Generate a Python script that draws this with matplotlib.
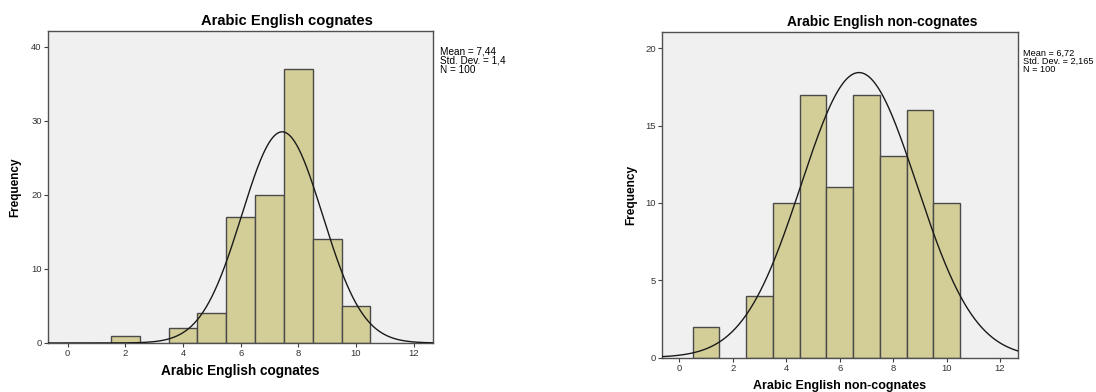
import numpy as np
import matplotlib
matplotlib.use("Agg")
import matplotlib.pyplot as plt

plt.rcParams['font.family'] = ['Liberation Sans', 'DejaVu Sans']

# Data
cog_values = [2, 4, 5, 6, 7, 8, 9, 10]
cog_counts = [1, 2, 4, 17, 20, 37, 14, 5]
cog_mean, cog_sd, cog_n = 7.44, 1.4, 100

non_values = [1, 3, 4, 5, 6, 7, 8, 9, 10]
non_counts = [2, 4, 10, 17, 11, 17, 13, 16, 10]
non_mean, non_sd, non_n = 6.72, 2.165, 100

x_ticks = [0, 2, 4, 6, 8, 10, 12]
cog_yticks = [0, 10, 20, 30, 40]
non_yticks = [0, 5, 10, 15, 20]

titles = ["Arabic English cognates", "Arabic English non-cognates"]
stats_text = ["Mean = 7,44\nStd. Dev. = 1,4\nN = 100",
              "Mean = 6,72\nStd. Dev. = 2,165\nN = 100"]

BAR = '#d3ce97'
EDGE = '#4a4a4a'
BG = '#f0f0f0'

fig = plt.figure(figsize=(10.96, 3.92), dpi=100)

def panel(rect, values, counts, mean, sd, n, xlim, ylim, yticks):
    ax = fig.add_axes(rect)
    ax.set_facecolor(BG)
    ax.bar(values, counts, width=1.0, color=BAR, edgecolor=EDGE, linewidth=1.0, zorder=2)
    xs = np.linspace(xlim[0], xlim[1], 400)
    ys = n * 1.0 / (sd * np.sqrt(2 * np.pi)) * np.exp(-0.5 * ((xs - mean) / sd) ** 2)
    ax.plot(xs, ys, color='#1a1a1a', linewidth=1.0, zorder=3)
    ax.set_xlim(*xlim)
    ax.set_ylim(*ylim)
    ax.set_xticks(x_ticks)
    ax.set_yticks(yticks)
    ax.tick_params(axis='both', labelsize=6.8, length=3, width=0.8, color='#404040',
                   labelcolor='#333333', pad=1.5)
    for s in ax.spines.values():
        s.set_color('#505050')
        s.set_linewidth(1.0)
    return ax

ax1 = panel([48/1096, 1-343/392, (433-48)/1096, (343-31)/392],
            cog_values, cog_counts, cog_mean, cog_sd, cog_n,
            (-0.68, 12.67), (0, 42.1), cog_yticks)
ax2 = panel([662.3/1096, 1-357.5/392, (1017.7-662.3)/1096, (357.5-32.3)/392],
            non_values, non_counts, non_mean, non_sd, non_n,
            (-0.64, 12.66), (0, 21.03), non_yticks)

fig.text(286.7/1096, 1-21/392, titles[0], ha='center', va='center', fontsize=10.6, fontweight='bold')
fig.text(882.7/1096, 1-21.7/392, titles[1], ha='center', va='center', fontsize=9.9, fontweight='bold')

fig.text(240.5/1096, 1-371/392, titles[0], ha='center', va='center', fontsize=9.8, fontweight='bold')
fig.text(840/1096, 1-386.5/392, titles[1], ha='center', va='center', fontsize=9.0, fontweight='bold')

fig.text(15/1096, 1-187/392, "Frequency", ha='center', va='center', rotation=90, fontsize=8.5, fontweight='bold')
fig.text(631.7/1096, 1-195/392, "Frequency", ha='center', va='center', rotation=90, fontsize=8.6, fontweight='bold')

fig.text(439.5/1096, 1-47/392, stats_text[0], ha='left', va='top', fontsize=7.2, linespacing=0.85)
fig.text(1023.3/1096, 1-48.5/392, stats_text[1], ha='left', va='top', fontsize=6.6, linespacing=0.9)

fig.savefig('out.png', dpi=100, facecolor='white')
